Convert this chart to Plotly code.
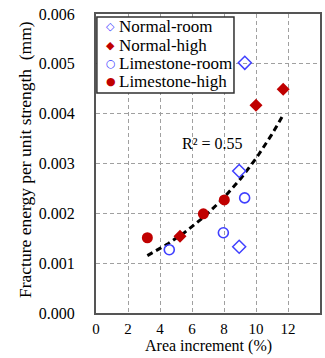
import numpy as np
import plotly.graph_objects as go

# Data
normal_room_x = [9.3, 8.95, 8.95]
normal_room_y = [0.00502, 0.00285, 0.00133]
normal_high_x = [5.25, 10.0, 11.7]
normal_high_y = [0.00154, 0.00417, 0.00449]
limestone_room_x = [4.58, 7.96, 9.29]
limestone_room_y = [0.00127, 0.00161, 0.00231]
limestone_high_x = [3.21, 6.71, 8.02]
limestone_high_y = [0.00151, 0.00199, 0.00227]

series_names = ["Normal-room", "Normal-high", "Limestone-room", "Limestone-high"]
x_ticks = [0, 2, 4, 6, 8, 10, 12, 14]
y_ticks = [0.000, 0.001, 0.002, 0.003, 0.004, 0.005, 0.006]
r2_text = "R² = 0.55"
x_title = "Area increment (%)"
y_title = "Fracture energy per unit strength  (mm)"

BLUE = "#4040ff"
RED = "#c00000"
FONT = "Liberation Serif"

# exponential trend fitted on all points
all_x = np.array(normal_room_x + normal_high_x + limestone_room_x + limestone_high_x)
all_y = np.array(normal_room_y + normal_high_y + limestone_room_y + limestone_high_y)
b, ln_a = np.polyfit(all_x, np.log(all_y), 1)
fit_x = np.linspace(all_x.min(), all_x.max(), 60)
fit_y = np.exp(ln_a) * np.exp(b * fit_x)

fig = go.Figure()
fig.add_trace(go.Scatter(x=fit_x, y=fit_y, mode="lines",
                         line=dict(color="black", width=3, dash="6px,4px"),
                         showlegend=False, hoverinfo="skip"))
fig.add_trace(go.Scatter(x=normal_room_x, y=normal_room_y, mode="markers", name=series_names[0],
                         marker=dict(symbol="diamond-open", size=10, color=BLUE, line=dict(width=1.5))))
fig.add_trace(go.Scatter(x=normal_high_x, y=normal_high_y, mode="markers", name=series_names[1],
                         marker=dict(symbol="diamond", size=10, color=RED)))
fig.add_trace(go.Scatter(x=limestone_room_x, y=limestone_room_y, mode="markers", name=series_names[2],
                         marker=dict(symbol="circle-open", size=10, color=BLUE, line=dict(width=1.6))))
fig.add_trace(go.Scatter(x=limestone_high_x, y=limestone_high_y, mode="markers", name=series_names[3],
                         marker=dict(symbol="circle", size=11, color=RED)))

axis_common = dict(showline=True, mirror=True, linecolor="#555555", linewidth=2,
                   showgrid=True, gridcolor="#a0a0a0", griddash="4px,3px", gridwidth=1,
                   zeroline=False, ticks="", automargin=False)

fig.update_xaxes(range=[0, 14], tickvals=x_ticks, ticktext=[str(v) for v in x_ticks],
                 ticklabelstandoff=1, tickfont=dict(family=FONT, size=15, color="black"), **axis_common)
fig.update_yaxes(range=[0, 0.006], tickvals=y_ticks, ticktext=[f"{v:.3f}" for v in y_ticks],
                 ticklabelstandoff=16, tickfont=dict(family=FONT, size=16, color="black"), **axis_common)

# legend drawn as text so spacing matches the original
legend_syms = [("◇", BLUE), ("◆", RED), ("○", BLUE), ("●", RED)]
legend_ys = [0.9575, 0.896, 0.835, 0.7736]
annotations = []
for (sym, col), name, ly in zip(legend_syms, series_names, legend_ys):
    annotations.append(dict(xref="paper", yref="paper", x=0.066, y=ly, text=sym, showarrow=False,
                            xanchor="center", yanchor="middle", font=dict(family="DejaVu Sans", size=11, color=col)))
    annotations.append(dict(xref="paper", yref="paper", x=0.095, y=ly, text=name, showarrow=False,
                            xanchor="left", yanchor="middle", font=dict(family=FONT, size=17, color="black")))
annotations.append(dict(x=7.3, y=0.0034, text=r2_text, showarrow=False,
                        font=dict(family=FONT, size=16, color="black")))
annotations.append(dict(xref="paper", yref="paper", x=0.5, y=-0.1455, text=x_title, showarrow=False,
                        xanchor="center", yanchor="bottom", font=dict(family=FONT, size=16, color="black")))
annotations.append(dict(xref="paper", yref="paper", x=-0.317, y=0.515, text=y_title, showarrow=False,
                        textangle=-90, xanchor="center", yanchor="middle",
                        font=dict(family=FONT, size=17.5, color="black")))

fig.update_layout(
    width=325, height=358,
    margin=dict(l=96, r=5, t=14, b=45),
    paper_bgcolor="white", plot_bgcolor="white",
    showlegend=False,
    annotations=annotations,
    shapes=[dict(type="rect", xref="paper", yref="paper", x0=0.004, x1=0.616, y0=0.736, y1=0.99,
                 line=dict(color="#303030", width=1.5), fillcolor="white", layer="above")],
)

fig.write_html("out.html", config={"displayModeBar": False},
               post_script="document.body.style.margin='0';document.body.style.padding='0';document.body.style.overflow='hidden';")
